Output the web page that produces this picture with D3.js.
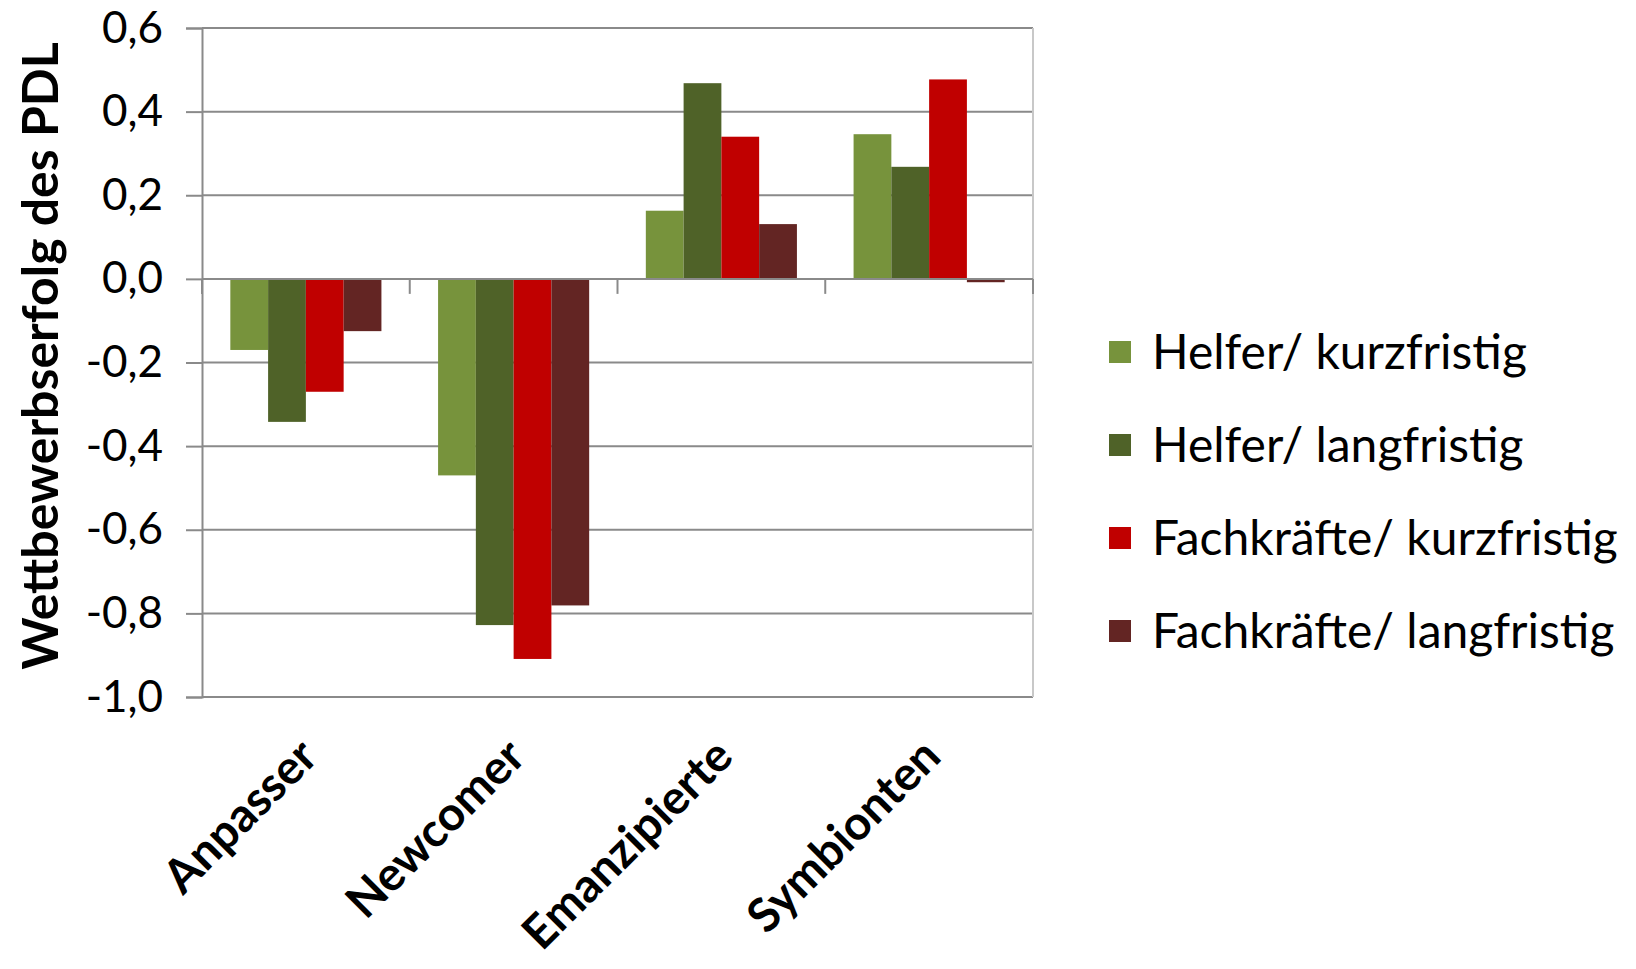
<html>
  <head>
    <script src="https://d3js.org/d3.v7.min.js"></script>
    <style>
      body { margin: 0; background: #fff; }
      text { font-family: Lato, "Open Sans", sans-serif; fill: #000; }
    </style>
  </head>
  <body>
<div id="my_dataviz"></div>
<script>
// categories and series
var categories = ["Anpasser", "Newcomer", "Emanzipierte", "Symbionten"];
var seriesNames = ["Helfer/ kurzfristig", "Helfer/ langfristig", "Fachkräfte/ kurzfristig", "Fachkräfte/ langfristig"];
var seriesColors = ["#77933C", "#4F6228", "#C00000", "#632523"];
// values per series, in category order
var helferKurz = [-0.17, -0.47, 0.163, 0.346];
var helferLang = [-0.342, -0.828, 0.468, 0.268];
var fachKurz = [-0.27, -0.909, 0.34, 0.477];
var fachLang = [-0.125, -0.781, 0.131, -0.008];
var yTicks = [-1.0, -0.8, -0.6, -0.4, -0.2, 0.0, 0.2, 0.4, 0.6];

var seriesValues = [helferKurz, helferLang, fachKurz, fachLang];

var W = 1636, H = 969;
var plotLeft = 202, plotRight = 1033, plotTop = 28, plotBottom = 697;

var svg = d3.select("#my_dataviz")
  .append("svg")
    .attr("width", W)
    .attr("height", H);

svg.append("rect").attr("width", W).attr("height", H).attr("fill", "#fff");

var y = d3.scaleLinear().domain([-1.0, 0.6]).range([plotBottom, plotTop]);
var x0 = d3.scaleBand().domain(categories).range([plotLeft, plotRight]);
// Excel style: gap width 150% -> 0.75 bar on each side of the group
var bw = x0.bandwidth() / 5.5;
var x1 = d3.scaleBand().domain(d3.range(seriesNames.length))
  .range([bw * 0.75, bw * 4.75]);

// gridlines
svg.append("g")
  .selectAll("line")
  .data(yTicks)
  .enter()
  .append("line")
    .attr("x1", plotLeft).attr("x2", plotRight)
    .attr("y1", function(d) { return y(d); })
    .attr("y2", function(d) { return y(d); })
    .attr("stroke", "#8a8a8a")
    .attr("stroke-width", 2);

// right border of the plot area
svg.append("line")
  .attr("x1", plotRight).attr("x2", plotRight).attr("y1", plotTop).attr("y2", plotBottom)
  .attr("stroke", "#c8c8c8").attr("stroke-width", 2);

// bars
var rows = [];
categories.forEach(function(c, i) {
  seriesValues.forEach(function(vals, s) {
    rows.push({cat: c, s: s, v: vals[i]});
  });
});

svg.append("g")
  .selectAll("rect")
  .data(rows)
  .enter()
  .append("rect")
    .attr("x", function(d) { return x0(d.cat) + x1(d.s); })
    .attr("width", x1.bandwidth())
    .attr("y", function(d) { return y(Math.max(0, d.v)); })
    .attr("height", function(d) { return Math.abs(y(d.v) - y(0)); })
    .attr("fill", function(d) { return seriesColors[d.s]; });

// category axis crossing at zero
svg.append("line")
  .attr("x1", plotLeft).attr("x2", plotRight).attr("y1", y(0)).attr("y2", y(0))
  .attr("stroke", "#8a8a8a").attr("stroke-width", 2);
svg.append("g")
  .selectAll("line")
  .data(d3.range(categories.length + 1))
  .enter()
  .append("line")
    .attr("x1", function(i) { return plotLeft + i * x0.step(); })
    .attr("x2", function(i) { return plotLeft + i * x0.step(); })
    .attr("y1", y(0)).attr("y2", y(0) + 15)
    .attr("stroke", "#8a8a8a").attr("stroke-width", 2);

// Y axis
var yAxis = svg.append("g")
  .attr("transform", "translate(" + plotLeft + ",0)")
  .call(d3.axisLeft(y).tickValues(yTicks).tickSize(16).tickPadding(23)
    .tickFormat(function(d) { return d3.format(".1f")(d).replace(".", ",").replace("−", "-"); }));
yAxis.select(".domain").attr("stroke", "#8a8a8a").attr("stroke-width", 2);
yAxis.selectAll(".tick line").attr("stroke", "#8a8a8a").attr("stroke-width", 2);
yAxis.selectAll(".tick text")
  .style("font-family", "Lato, sans-serif")
  .style("font-size", "44px")
  .attr("fill", "#000");

// Label for Y axis
svg.append("text")
  .attr("text-anchor", "middle")
  .attr("transform", "translate(58,356) rotate(-90)")
  .style("font-size", "50px")
  .style("font-weight", "bold")
  .text("Wettbewerbserfolg des PDL");

// category labels, rotated
svg.append("g")
  .selectAll("text")
  .data(categories)
  .enter()
  .append("text")
    .attr("text-anchor", "end")
    .attr("transform", function(d) {
      return "translate(" + (x0(d) + x0.bandwidth() / 2 + 14) + "," + (plotBottom + 62) + ") rotate(-45)";
    })
    .style("font-size", "47px")
    .style("font-weight", "bold")
    .text(function(d) { return d; });

// legend
var legend = svg.append("g")
  .selectAll("g")
  .data(seriesNames)
  .enter()
  .append("g")
    .attr("transform", function(d, i) { return "translate(1109," + (352 + i * 93) + ")"; });
legend.append("rect")
  .attr("x", 0).attr("y", -11).attr("width", 22).attr("height", 22)
  .attr("fill", function(d, i) { return seriesColors[i]; });
legend.append("text")
  .attr("x", 43).attr("y", 0)
  .attr("dy", "0.35em")
  .style("font-size", "48px")
  .text(function(d) { return d; });
</script>
  </body>
</html>
